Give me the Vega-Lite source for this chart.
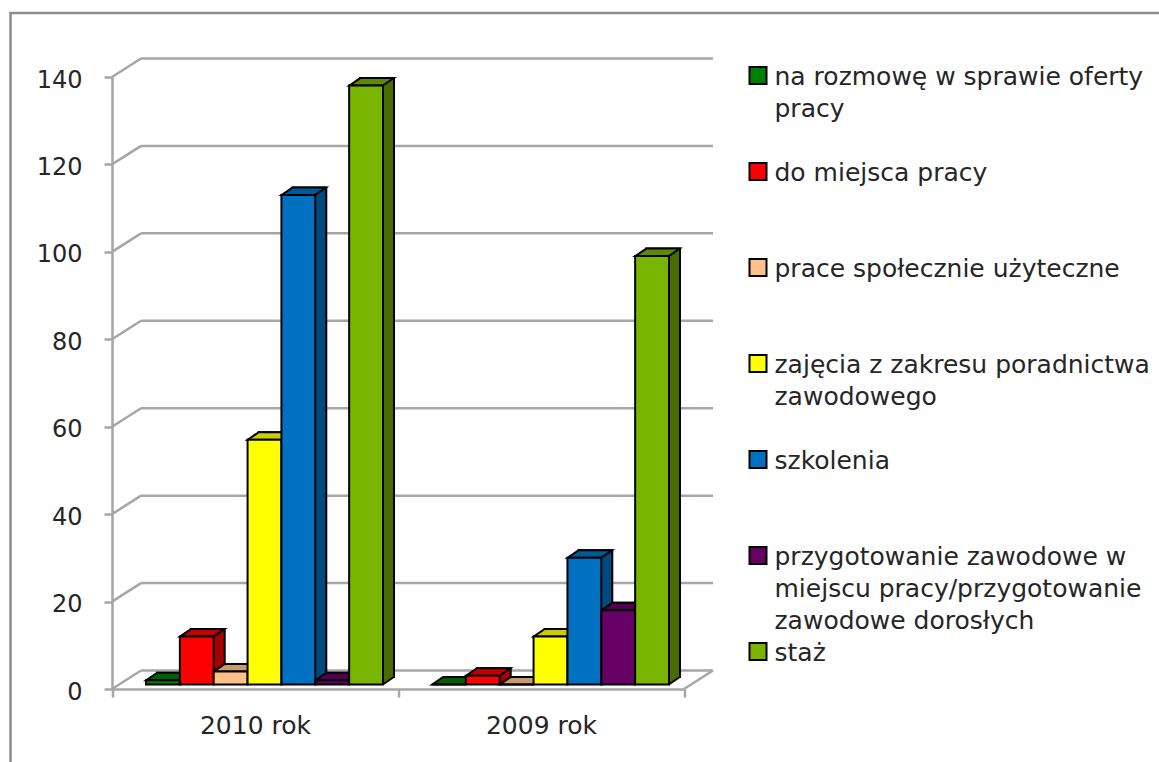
{
"$schema":"https://vega.github.io/schema/vega-lite/v6.json",
"autosize":{"type":"none"},
"padding":{"left":10.5,"top":13,"right":0,"bottom":0},
"width":1170,"height":770,
"background":"white",
"config":{"view":{"stroke":"#8c8c8c","strokeWidth":2.5,"fill":"white"},"font":"DejaVu Sans"},
"datasets":{
"bars":[
{"rok":"2010 rok","forma":"na rozmowę w sprawie oferty pracy","liczba":1},
{"rok":"2010 rok","forma":"do miejsca pracy","liczba":11},
{"rok":"2010 rok","forma":"prace społecznie użyteczne","liczba":3},
{"rok":"2010 rok","forma":"zajęcia z zakresu poradnictwa zawodowego","liczba":56},
{"rok":"2010 rok","forma":"szkolenia","liczba":112},
{"rok":"2010 rok","forma":"przygotowanie zawodowe w miejscu pracy/przygotowanie zawodowe dorosłych","liczba":1},
{"rok":"2010 rok","forma":"staż","liczba":137},
{"rok":"2009 rok","forma":"na rozmowę w sprawie oferty pracy","liczba":0},
{"rok":"2009 rok","forma":"do miejsca pracy","liczba":2},
{"rok":"2009 rok","forma":"prace społecznie użyteczne","liczba":0},
{"rok":"2009 rok","forma":"zajęcia z zakresu poradnictwa zawodowego","liczba":11},
{"rok":"2009 rok","forma":"szkolenia","liczba":29},
{"rok":"2009 rok","forma":"przygotowanie zawodowe w miejscu pracy/przygotowanie zawodowe dorosłych","liczba":17},
{"rok":"2009 rok","forma":"staż","liczba":98}
],
"ticks":[{"t":0,"a":0,"b":1},{"t":20,"a":0,"b":1},{"t":40,"a":0,"b":1},{"t":60,"a":0,"b":1},{"t":80,"a":0,"b":1},{"t":100,"a":0,"b":1},{"t":120,"a":0,"b":1},{"t":140,"a":0,"b":1}]
},
"resolve":{"scale":{"x":"independent","y":"independent","color":"independent"},"axis":{"y":"independent"}},
"layer":[
{"data":{"name":"ticks"},
 "mark":{"type":"rule","stroke":"#a6a6a6","strokeWidth":2.5,"xOffset":29,"x2Offset":29,"yOffset":-18.5},
 "encoding":{
  "x":{"field":"a","type":"quantitative","axis":null,"scale":{"domain":[0,1],"range":[101.5,673.5]}},
  "x2":{"field":"b"},
  "y":{"field":"t","type":"quantitative","scale":{"domain":[0,140],"range":[676,64]},
   "axis":{"values":[0,20,40,60,80,100,120,140],"title":null,"grid":false,"orient":"left","offset":-101.5,"zindex":1,"domainColor":"#a6a6a6","domainWidth":2.5,"tickColor":"#a6a6a6","tickWidth":2.5,"tickSize":8,"labelFontSize":24,"labelColor":"#262626","labelPadding":22,"labelOffset":3,"labelFont":"DejaVu Sans"}}
 }},
{"data":{"name":"ticks"},
 "mark":{"type":"rule","stroke":"#a6a6a6","strokeWidth":2.5,"x2Offset":29,"y2Offset":-18.5},
 "encoding":{
  "x":{"field":"a","type":"quantitative","axis":null,"scale":{"domain":[0,1],"range":[101.5,673.5]}},
  "x2":{"field":"a"},
  "y":{"field":"t","type":"quantitative","scale":{"domain":[0,140],"range":[676,64]},"axis":null},
  "y2":{"field":"t"}
 }},
{"data":{"name":"ticks"},
 "transform":[{"filter":"datum.t==0"}],
 "mark":{"type":"rule","stroke":"#a6a6a6","strokeWidth":2.5,"x2Offset":29,"y2Offset":-18.5},
 "encoding":{
  "x":{"field":"b","type":"quantitative","axis":null,"scale":{"domain":[0,1],"range":[101.5,673.5]}},
  "x2":{"field":"b"},
  "y":{"field":"t","type":"quantitative","scale":{"domain":[0,140],"range":[676,64]},"axis":null},
  "y2":{"field":"t"}
 }},
{"data":{"name":"bars"},
 "resolve":{"scale":{"color":"independent","x":"independent"}},
 "encoding":{
  "xOffset":{"field":"forma","type":"nominal","sort":["na rozmowę w sprawie oferty pracy","do miejsca pracy","prace społecznie użyteczne","zajęcia z zakresu poradnictwa zawodowego","szkolenia","przygotowanie zawodowe w miejscu pracy/przygotowanie zawodowe dorosłych","staż"],
   "scale":{"range":[34,271],"paddingInner":0,"paddingOuter":0}},
  "y":{"field":"liczba","type":"quantitative","scale":{"domain":[0,140],"range":[676,64]},"axis":null}
 },
 "layer":[
 {"mark":{"type":"bar","stroke":"black","strokeWidth":2,"yOffset":-12,"y2Offset":-12,"cornerRadius":0},
  "encoding":{"x":{"field":"rok","type":"nominal","sort":["2010 rok","2009 rok"],"axis":null,"scale":{"range":[112.5,684.5],"paddingInner":0,"paddingOuter":0}},
   "color":{"field":"forma","type":"nominal","legend":null,"scale":{"domain":["na rozmowę w sprawie oferty pracy","do miejsca pracy","prace społecznie użyteczne","zajęcia z zakresu poradnictwa zawodowego","szkolenia","przygotowanie zawodowe w miejscu pracy/przygotowanie zawodowe dorosłych","staż"],"range":["#004d00","#a30000","#b5906e","#b3b300","#004a80","#400040","#4a6b00"]}}}},
 {"mark":{"type":"point","filled":true,"size":1122,"opacity":1,"strokeWidth":0,"yOffset":-4.5,"shape":"M1,0L1.657,-0.448L1.657,-0.52L1,-0.52Z"},
  "encoding":{"x":{"field":"rok","type":"nominal","sort":["2010 rok","2009 rok"],"axis":null,"scale":{"range":[101.5,673.5],"paddingInner":0,"paddingOuter":0}},
   "color":{"field":"forma","type":"nominal","legend":null,"scale":{"domain":["na rozmowę w sprawie oferty pracy","do miejsca pracy","prace społecznie użyteczne","zajęcia z zakresu poradnictwa zawodowego","szkolenia","przygotowanie zawodowe w miejscu pracy/przygotowanie zawodowe dorosłych","staż"],"range":["#004d00","#a30000","#b5906e","#b3b300","#004a80","#400040","#4a6b00"]}},"y":{"datum":0,"type":"quantitative","scale":{"domain":[0,140],"range":[676,64]},"axis":null}}},
 {"mark":{"type":"point","filled":false,"size":1122,"opacity":1,"stroke":"black","strokeWidth":2,"yOffset":-4.5,"shape":"M1,0L1.657,-0.448"},
  "encoding":{"x":{"field":"rok","type":"nominal","sort":["2010 rok","2009 rok"],"axis":null,"scale":{"range":[101.5,673.5],"paddingInner":0,"paddingOuter":0}},
   "y":{"datum":0,"type":"quantitative","scale":{"domain":[0,140],"range":[676,64]},"axis":null}}},
 {"mark":{"type":"point","filled":true,"size":1122,"opacity":1,"stroke":"black","strokeWidth":2,"yOffset":-4.5,"shape":"M-1,0L1,0L1.657,-0.448L-0.343,-0.448Z"},
  "encoding":{"x":{"field":"rok","type":"nominal","sort":["2010 rok","2009 rok"],"axis":null,"scale":{"range":[101.5,673.5],"paddingInner":0,"paddingOuter":0}},
   "color":{"field":"forma","type":"nominal","legend":null,"scale":{"domain":["na rozmowę w sprawie oferty pracy","do miejsca pracy","prace społecznie użyteczne","zajęcia z zakresu poradnictwa zawodowego","szkolenia","przygotowanie zawodowe w miejscu pracy/przygotowanie zawodowe dorosłych","staż"],"range":["#005f00","#c40000","#c89a72","#cccc00","#005a9a","#520052","#5f8a00"]}}}},
 {"mark":{"type":"bar","stroke":"black","strokeWidth":2,"yOffset":-4.5,"y2Offset":-4.5,"cornerRadius":0},
  "encoding":{"x":{"field":"rok","type":"nominal","sort":["2010 rok","2009 rok"],
   "scale":{"range":[101.5,673.5],"paddingInner":0,"paddingOuter":0},
   "axis":{"title":null,"offset":-94,"labelAngle":0,"tickBand":"extent","domainColor":"#a6a6a6","domainWidth":2.5,"tickColor":"#a6a6a6","tickWidth":2.5,"tickSize":8,"labelFontSize":25,"labelColor":"#262626","labelPadding":16,"labelFont":"DejaVu Sans"}},
   "color":{"field":"forma","type":"nominal","scale":{"domain":["na rozmowę w sprawie oferty pracy","do miejsca pracy","prace społecznie użyteczne","zajęcia z zakresu poradnictwa zawodowego","szkolenia","przygotowanie zawodowe w miejscu pracy/przygotowanie zawodowe dorosłych","staż"],"range":["#008000","#ff0000","#ffc08a","#ffff00","#0070c0","#660066","#79b400"]},
   "legend":{"title":null,"orient":"none","legendX":735,"legendY":50,"columns":1,"gridAlign":"all","symbolType":"square","symbolSize":289,"symbolStrokeColor":"black","symbolStrokeWidth":2,"symbolOpacity":1,"labelFontSize":25,"labelColor":"#262626","labelFont":"DejaVu Sans","labelLimit":420,"labelOffset":4,"labelBaseline":"alphabetic","rowPadding":5,
    "labelExpr":"datum.label=='na rozmowę w sprawie oferty pracy'?['na rozmowę w sprawie oferty','pracy']:datum.label=='zajęcia z zakresu poradnictwa zawodowego'?['zajęcia z zakresu poradnictwa','zawodowego']:datum.label=='przygotowanie zawodowe w miejscu pracy/przygotowanie zawodowe dorosłych'?['przygotowanie zawodowe w','miejscu pracy/przygotowanie','zawodowe dorosłych']:datum.label",
    "encoding":{"labels":{"lineHeight":{"value":32},"dy":{"value":9}}}}}}}
 ]}
]}
